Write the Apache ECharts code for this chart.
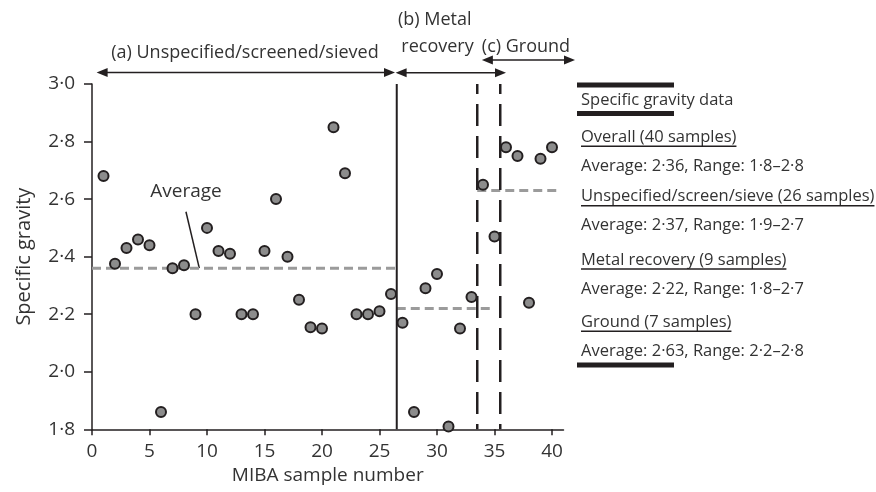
<!DOCTYPE html>
<html>
<head>
<meta charset="utf-8">
<script src="https://cdn.jsdelivr.net/npm/echarts@6/dist/echarts.min.js"></script>
<style>
  html, body { margin: 0; padding: 0; background: #fff; }
  #chart { width: 876px; height: 492px; }
</style>
</head>
<body>
<div id="chart"></div>
<script>
// sample number -> specific gravity
const sampleNumbers = [1, 2, 3, 4, 5, 6, 7, 8, 9, 10,
  11, 12, 13, 14, 15, 16, 17, 18, 19, 20,
  21, 22, 23, 24, 25, 26, 27, 28, 29, 30,
  31, 32, 33, 34, 35, 36, 37, 38, 39, 40];
const specificGravity = [2.68, 2.375, 2.43, 2.46, 2.44, 1.86, 2.36, 2.37, 2.20, 2.50,
  2.42, 2.41, 2.20, 2.20, 2.42, 2.60, 2.40, 2.25, 2.155, 2.15,
  2.85, 2.69, 2.20, 2.20, 2.21, 2.27, 2.17, 1.86, 2.29, 2.34,
  1.81, 2.15, 2.26, 2.65, 2.47, 2.78, 2.75, 2.24, 2.74, 2.78];

const xTicks = [0, 5, 10, 15, 20, 25, 30, 35, 40];
const yTicks = [1.8, 2.0, 2.2, 2.4, 2.6, 2.8, 3.0];

// group separators
const solidBreak = 26.5;
const dashedBreaks = [33.5, 35.5];

// grey average lines
const averageLevels = [2.36, 2.22, 2.63];
const averageSpans = [[0, 26.5], [26.5, 35], [33.5, 40.8]];

// summary box on the right
const groupNames = ['Overall', 'Unspecified/screen/sieve', 'Metal recovery', 'Ground'];
const groupCounts = [40, 26, 9, 7];
const groupAverages = ['2·36', '2·37', '2·22', '2·63'];
const groupRanges = ['1·8–2·8', '1·9–2·7', '1·8–2·7', '2·2–2·8'];

const ink = '#231f20';
const font = '"Open Sans", "Noto Sans", sans-serif';
const dot = v => v.toFixed(1).replace('.', '·');

const chart = echarts.init(document.getElementById('chart'), null, { renderer: 'canvas' });

const series = [];
averageLevels.forEach((lv, i) => {
  series.push({
    type: 'line', silent: true, symbol: 'none', z: 1,
    data: [[averageSpans[i][0], lv], [averageSpans[i][1], lv]],
    lineStyle: { color: '#9b9b9b', width: 3, type: [9, 5] }
  });
});
series.push({
  type: 'line', silent: true, symbol: 'none', z: 2,
  data: [[solidBreak, yTicks[0]], [solidBreak, yTicks[yTicks.length - 1]]],
  lineStyle: { color: ink, width: 2 }
});
dashedBreaks.forEach(b => {
  series.push({
    type: 'line', silent: true, symbol: 'none', z: 2,
    data: [[b, yTicks[yTicks.length - 1]], [b, yTicks[0]]],
    lineStyle: { color: ink, width: 2.5, type: [22, 10], dashOffset: 12 }
  });
});
series.push({
  type: 'scatter', z: 5,
  data: sampleNumbers.map((n, i) => [n, specificGravity[i]]),
  symbolSize: 10,
  itemStyle: { color: '#8c8c8c', borderColor: ink, borderWidth: 2, opacity: 1 }
});

chart.setOption({
  animation: false,
  textStyle: { fontFamily: font },
  grid: { left: 92, right: 312.5, top: 84, bottom: 62.7 },
  xAxis: {
    type: 'value', min: 0, max: 41, interval: 5,
    name: 'MIBA sample number', nameLocation: 'middle', nameGap: 36,
    nameTextStyle: { fontSize: 19, color: '#333', fontFamily: font },
    axisLine: { lineStyle: { color: ink, width: 1.5 } },
    axisTick: { length: 6, customValues: xTicks, lineStyle: { color: ink, width: 1.5 } },
    axisLabel: { customValues: xTicks, fontSize: 19, color: '#333', margin: 13, fontFamily: font },
    splitLine: { show: false }
  },
  yAxis: {
    type: 'value', min: 1.8, max: 3.0, interval: 0.2,
    name: 'Specific gravity', nameLocation: 'middle', nameGap: 58,
    nameTextStyle: { fontSize: 20, color: '#333', fontFamily: font },
    axisLine: { show: true, lineStyle: { color: ink, width: 1.5 } },
    axisTick: { show: true, length: 8, lineStyle: { color: ink, width: 1.5 } },
    axisLabel: { fontSize: 19, color: '#333', margin: 17, fontFamily: font, formatter: dot },
    splitLine: { show: false }
  },
  series: series
});

// ---- annotations ----
const xp = x => chart.convertToPixel({ xAxisIndex: 0 }, x);
const pt = (x, y) => chart.convertToPixel({ seriesIndex: series.length - 1 }, [x, y]);

function arrow(x1, x2, y) {
  const a = xp(x1), b = xp(x2);
  return [
    { type: 'line', shape: { x1: a + 6, y1: y, x2: b - 6, y2: y }, style: { stroke: ink, lineWidth: 1.5 } },
    { type: 'polygon', shape: { points: [[a, y], [a + 11, y - 4.5], [a + 11, y + 4.5]] }, style: { fill: ink } },
    { type: 'polygon', shape: { points: [[b, y], [b - 11, y - 4.5], [b - 11, y + 4.5]] }, style: { fill: ink } }
  ];
}
function label(text, x, y, size, align) {
  return { type: 'text', x: x, y: y, style: { text: text, font: size + 'px ' + font, fill: '#333', align: align || 'left', verticalAlign: 'middle' } };
}

const g = [];
g.push(...arrow(0.4, 26.35, 72.5));
g.push(...arrow(26.4, 36.0, 72.7));
g.push(...arrow(33.9, 42.0, 60));
g.push(label('(a) Unspecified/screened/sieved', xp(13.3), 52.5, 18, 'center'));
g.push(label('(b) Metal', xp(26.6), 20, 18));
g.push(label('recovery', xp(26.9), 46.5, 18));
g.push(label('(c) Ground', xp(33.9), 46.5, 18));

// "Average" pointer
const avgTop = pt(8.17, 2.556), avgBot = pt(9.33, 2.36), avgTxt = pt(8.17, 2.625);
g.push(label('Average', avgTxt[0], avgTxt[1], 19, 'center'));
g.push({ type: 'line', shape: { x1: avgTop[0], y1: avgTop[1], x2: avgBot[0], y2: avgBot[1] }, style: { stroke: ink, lineWidth: 1.5 } });

// summary box
const legendSize = 16.5;
const ctx = document.createElement('canvas').getContext('2d');
ctx.font = legendSize + 'px ' + font;
const boxX = 581;
g.push({ type: 'rect', shape: { x: 577, y: 82.5, width: 97, height: 5 }, style: { fill: ink } });
g.push(label('Specific gravity data', boxX, 100.5, legendSize));
g.push({ type: 'rect', shape: { x: 577, y: 111, width: 97, height: 5 }, style: { fill: ink } });
const headY = [137.3, 196.7, 260, 322.3];
groupNames.forEach((nm, i) => {
  const head = nm + ' (' + groupCounts[i] + ' samples)';
  const stat = 'Average: ' + groupAverages[i] + ', Range: ' + groupRanges[i];
  const w = ctx.measureText(head).width;
  g.push(label(head, boxX, headY[i], legendSize));
  g.push({ type: 'line', shape: { x1: boxX, y1: headY[i] + 9, x2: boxX + w, y2: headY[i] + 9 }, style: { stroke: ink, lineWidth: 1.5 } });
  g.push(label(stat, boxX, headY[i] + 29, legendSize));
});
g.push({ type: 'rect', shape: { x: 577, y: 362.5, width: 97, height: 5 }, style: { fill: ink } });

chart.setOption({ graphic: g });
</script>
</body>
</html>
